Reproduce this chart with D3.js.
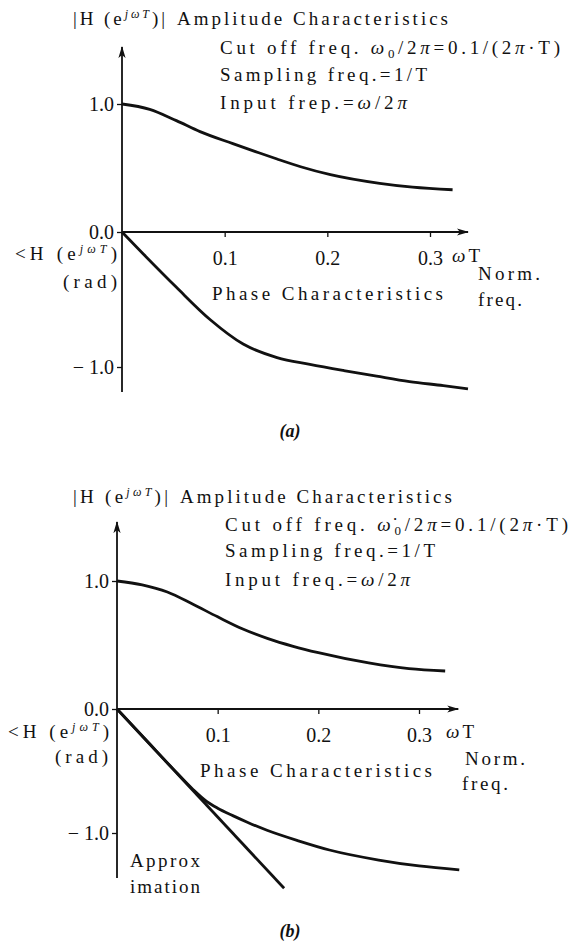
<!DOCTYPE html>
<html>
<head>
<meta charset="utf-8">
<script src="https://cdn.jsdelivr.net/npm/d3@7"></script>
<style>
body { margin: 0; background: #fff; }
</style>
</head>
<body>
<div id="chart"></div>
<script>
// tick values
const wtTicks = [0.1, 0.2, 0.3]
const ampTicks = [1.0, 0.0]
const phaseTicks = [-1.0]

// (a) curves, [wT, value]
const ampA = [[0, 1.0], [0.027, 0.958], [0.053, 0.87], [0.076, 0.784], [0.108, 0.69], [0.13, 0.628],
  [0.151, 0.57], [0.174, 0.51], [0.203, 0.448], [0.251, 0.38], [0.283, 0.35], [0.322, 0.33]]
const phaseA = [[0, 0], [0.021, -0.165], [0.053, -0.41], [0.086, -0.65], [0.118, -0.83], [0.151, -0.93],
  [0.183, -0.98], [0.216, -1.026], [0.248, -1.068], [0.28, -1.108], [0.313, -1.138], [0.337, -1.162]]

// (b) curves
const ampB = [[0, 1.0], [0.025, 0.97], [0.05, 0.914], [0.075, 0.82], [0.1, 0.72], [0.125, 0.625],
  [0.15, 0.55], [0.175, 0.49], [0.2, 0.44], [0.25, 0.36], [0.29, 0.315], [0.326, 0.297]]
const phaseB = [[0, 0], [0.03, -0.26], [0.055, -0.477], [0.075, -0.645], [0.089, -0.745], [0.1, -0.8],
  [0.115, -0.86], [0.13, -0.915], [0.149, -0.978], [0.181, -1.065], [0.211, -1.137], [0.26, -1.218],
  [0.3, -1.266], [0.34, -1.298]]
const approxB = [[0, 0], [0.166, -1.446]]

let svgWidth = 581
let svgHeight = 942
let serif = '"Liberation Serif", "Times New Roman", Times, serif'

let svg = d3.select('#chart')
  .append('svg')
  .attr('width', svgWidth)
  .attr('height', svgHeight)
  .attr('font-family', serif)

// arrow head for the axes
svg.append('defs').append('marker')
  .attr('id', 'arrow')
  .attr('viewBox', '0 -5 12 10')
  .attr('refX', 11)
  .attr('refY', 0)
  .attr('markerWidth', 12)
  .attr('markerHeight', 10)
  .attr('markerUnits', 'userSpaceOnUse')
  .attr('orient', 'auto')
  .append('path')
  .attr('d', 'M0,-3.6 L12,0 L0,3.6 L3,0 Z')
  .attr('fill', '#111')

// panel layouts
let panels = [
  {
    x: [122, 430], amp: [232, 104], phase: [232, 367],
    top: 1.445, bottom: -1.185, xEnd: 0.337,
    amplitude: ampA, phaseCurves: [phaseA],
    texts: [
      { t: 'head', x: 73, y: 25, len: 92 },
      { t: 'Amplitude Characteristics', x: 177, y: 25, len: 271 },
      { t: 'cut', omega: 'ω', x: 220, y: 54, len: 340 },
      { t: 'Sampling freq.=1/T', x: 220, y: 81, len: 207 },
      { t: 'input', s: 'Input frep.=', x: 220, y: 109, len: 187 },
      { t: 'angle', x: 15, y: 260, len: 102 },
      { t: '(rad)', x: 63, y: 288, len: 54 },
      { t: 'wt', x: 452, y: 262, len: 28 },
      { t: 'Norm.', x: 478, y: 280, len: 62 },
      { t: 'freq.', x: 478, y: 306, len: 44 },
      { t: 'Phase Characteristics', x: 212, y: 300, len: 231 },
      { t: 'cap', s: '(a)', x: 290, y: 437 }
    ]
  },
  {
    x: [117, 419], amp: [709, 581], phase: [709, 833],
    top: 1.46, bottom: -1.363, xEnd: 0.339,
    amplitude: ampB, phaseCurves: [phaseB, approxB],
    texts: [
      { t: 'head', x: 73, y: 503, len: 95 },
      { t: 'Amplitude Characteristics', x: 180, y: 503, len: 272 },
      { t: 'cut', omega: 'ω\u0307', x: 225, y: 531, len: 343 },
      { t: 'Sampling freq.=1/T', x: 225, y: 557, len: 210 },
      { t: 'input', s: 'Input freq.=', x: 225, y: 586, len: 185 },
      { t: 'angle', x: 8, y: 738, len: 101 },
      { t: '(rad)', x: 55, y: 763, len: 53 },
      { t: 'wt', x: 446, y: 738, len: 28 },
      { t: 'Norm.', x: 465, y: 765, len: 60 },
      { t: 'freq.', x: 462, y: 790, len: 46 },
      { t: 'Phase Characteristics', x: 200, y: 777, len: 232 },
      { t: 'Approx', x: 130, y: 867, len: 70 },
      { t: 'imation', x: 130, y: 893, len: 70 },
      { t: 'cap', s: '(b)', x: 290, y: 937 }
    ]
  }
]

panels.forEach(p => {
  let g = svg.append('g')

  // scales
  let xScale = d3.scaleLinear().domain([0, 0.3]).range(p.x)
  let yAmp = d3.scaleLinear().domain([0, 1]).range(p.amp)
  let yPhase = d3.scaleLinear().domain([0, -1]).range(p.phase)

  // axis lines with arrows
  g.append('line')
    .attr('x1', xScale(0)).attr('x2', xScale(0))
    .attr('y1', yPhase(p.bottom)).attr('y2', yAmp(p.top))
    .attr('stroke', '#111').attr('stroke-width', 1.8)
    .attr('marker-end', 'url(#arrow)')
  g.append('line')
    .attr('x1', xScale(0)).attr('x2', xScale(p.xEnd))
    .attr('y1', yAmp(0)).attr('y2', yAmp(0))
    .attr('stroke', '#111').attr('stroke-width', 1.8)
    .attr('marker-end', 'url(#arrow)')

  // ticks
  let xAxis = d3.axisBottom(xScale).tickValues(wtTicks).tickSize(5).tickPadding(14).tickFormat(d3.format('.1f'))
  let ampAxis = d3.axisLeft(yAmp).tickValues(ampTicks).tickSize(5).tickPadding(3).tickFormat(d3.format('.1f'))
  let phaseAxis = d3.axisLeft(yPhase).tickValues(phaseTicks).tickSize(5).tickPadding(3).tickFormat(d => '\u2212 ' + d3.format('.1f')(-d))

  ;[[xAxis, `translate(0,${yAmp(0)})`], [ampAxis, `translate(${xScale(0)},0)`], [phaseAxis, `translate(${xScale(0)},0)`]]
    .forEach(([ax, tr]) => {
      let a = g.append('g').attr('transform', tr).call(ax)
      a.attr('font-family', serif).attr('font-size', 20)
      a.select('.domain').remove()
      a.selectAll('line').attr('stroke', '#111').attr('stroke-width', 1.3)
      a.selectAll('text').attr('fill', '#111').attr('font-family', serif)
    })

  // curves
  let ampLine = d3.line().x(d => xScale(d[0])).y(d => yAmp(d[1])).curve(d3.curveMonotoneX)
  let phaseLine = d3.line().x(d => xScale(d[0])).y(d => yPhase(d[1])).curve(d3.curveMonotoneX)

  g.append('path')
    .attr('d', ampLine(p.amplitude))
    .attr('fill', 'none').attr('stroke', '#111').attr('stroke-width', 2.8)
  g.selectAll('.phase')
    .data(p.phaseCurves)
    .join('path')
    .attr('class', 'phase')
    .attr('d', d => phaseLine(d))
    .attr('fill', 'none').attr('stroke', '#111').attr('stroke-width', 2.8)

  // texts
  p.texts.forEach(d => {
    let t = g.append('text').attr('x', d.x).attr('y', d.y)
      .attr('font-size', 19).attr('font-family', serif).attr('fill', '#111')
    if (d.len) t.attr('textLength', d.len).attr('lengthAdjust', 'spacing')
    if (d.t === 'head' || d.t === 'angle') {
      t.append('tspan').text(d.t === 'head' ? '|H (e' : '<H (e')
      t.append('tspan').attr('dy', -7).attr('font-size', 12).attr('font-style', 'italic').text('jωT')
      t.append('tspan').attr('dy', 7).text(d.t === 'head' ? ')|' : ')')
    } else if (d.t === 'cut') {
      t.append('tspan').text('Cut off  freq. ')
      t.append('tspan').attr('font-style', 'italic').text(d.omega)
      t.append('tspan').attr('dy', 4).attr('font-size', 13).text('0')
      t.append('tspan').attr('dy', -4).text('/2')
      t.append('tspan').attr('font-style', 'italic').text('π')
      t.append('tspan').text('=0.1/(2')
      t.append('tspan').attr('font-style', 'italic').text('π')
      t.append('tspan').text('·T)')
    } else if (d.t === 'input') {
      t.append('tspan').text(d.s)
      t.append('tspan').attr('font-style', 'italic').text('ω')
      t.append('tspan').text('/2')
      t.append('tspan').attr('font-style', 'italic').text('π')
    } else if (d.t === 'wt') {
      t.append('tspan').attr('font-style', 'italic').text('ω')
      t.append('tspan').text('T')
    } else if (d.t === 'cap') {
      t.attr('text-anchor', 'middle').attr('font-style', 'italic').attr('font-weight', 'bold').attr('font-size', 18).text(d.s)
    } else {
      t.text(d.t)
    }
  })
})
</script>
</body>
</html>
